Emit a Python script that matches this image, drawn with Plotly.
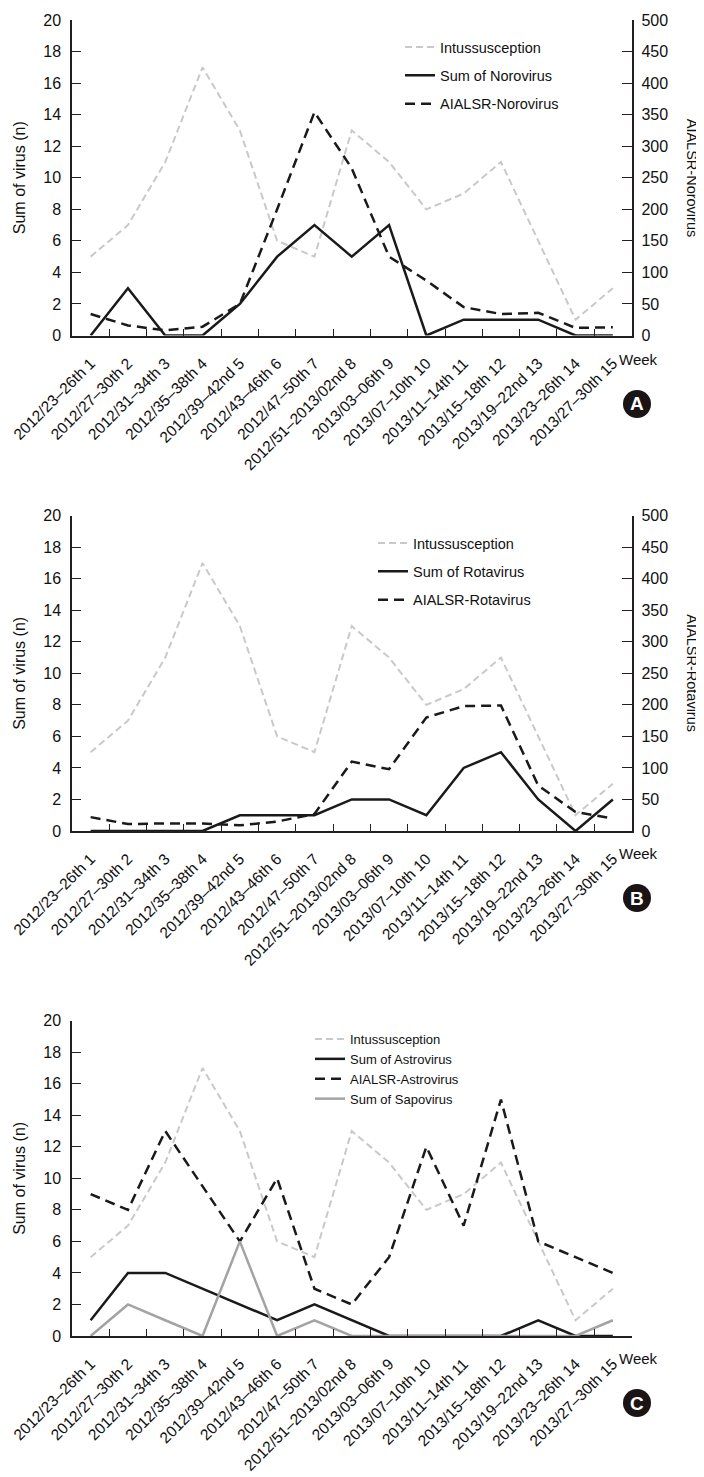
import plotly.graph_objects as go

W, H = 704, 1477

weeks = ["2012/23–26th 1", "2012/27–30th 2", "2012/31–34th 3", "2012/35–38th 4",
         "2012/39–42nd 5", "2012/43–46th 6", "2012/47–50th 7", "2012/51–2013/02nd 8",
         "2013/03–06th 9", "2013/07–10th 10", "2013/11–14th 11", "2013/15–18th 12",
         "2013/19–22nd 13", "2013/23–26th 14", "2013/27–30th 15"]

intussusception = [5, 7, 11, 17, 13, 6, 5, 13, 11, 8, 9, 11, 6, 1, 3]

sum_norovirus = [0, 3, 0, 0, 2, 5, 7, 5, 7, 0, 1, 1, 1, 0, 0]
aialsr_norovirus = [34, 16, 8, 14, 50, 200, 354, 265, 125, 87, 45, 34, 36, 12, 13]

sum_rotavirus = [0, 0, 0, 0, 1, 1, 1, 2, 2, 1, 4, 5, 2, 0, 2]
aialsr_rotavirus = [22, 11, 12, 12, 9, 15, 27, 110, 98, 180, 198, 199, 72, 30, 20]

sum_astrovirus = [1, 4, 4, 3, 2, 1, 2, 1, 0, 0, 0, 0, 1, 0, 0]
aialsr_astrovirus = [9, 8, 13, 9.5, 6, 10, 3, 2, 5, 12, 7, 15, 6, 5, 4]
sum_sapovirus = [0, 2, 1, 0, 6, 0, 1, 0, 0, 0, 0, 0, 0, 0, 1]

FONT = "Liberation Sans, Arial, Helvetica, sans-serif"
AX = "#231f20"
TXT = "#111111"
GRAY_D = "#c9c9c9"
SAPO = "#a3a3a3"

OFF = 8  # page body margin of the html


def px(x):
    return (x - OFF) / W


def py(y):
    return 1 - (y - OFF) / H


X0, X1 = 72, 631.5
panels = [  # (top px, bottom px)
    (20.0, 335.5),
    (515.7, 831.0),
    (1020.7, 1336.0),
]

fig = go.Figure()

intu_style = dict(color=GRAY_D, width=2, dash="7px,4px")
sum_style = dict(color="#1a1a1a", width=2.5)
aial_style = dict(color="#1a1a1a", width=2.5, dash="10px,6px")

# Panel A
fig.add_trace(go.Scatter(x=weeks, y=intussusception, name="Intussusception", mode="lines",
                         line=intu_style, xaxis="x", yaxis="y", legend="legend", legendgroup="a1"))
fig.add_trace(go.Scatter(x=weeks, y=sum_norovirus, name="Sum of Norovirus", mode="lines",
                         line=sum_style, xaxis="x", yaxis="y", legend="legend", legendgroup="a2"))
fig.add_trace(go.Scatter(x=weeks, y=aialsr_norovirus, name="AIALSR-Norovirus", mode="lines",
                         line=aial_style, xaxis="x", yaxis="y2", legend="legend", legendgroup="a3"))
# Panel B
fig.add_trace(go.Scatter(x=weeks, y=intussusception, name="Intussusception", mode="lines",
                         line=intu_style, xaxis="x2", yaxis="y3", legend="legend2", legendgroup="b1"))
fig.add_trace(go.Scatter(x=weeks, y=sum_rotavirus, name="Sum of Rotavirus", mode="lines",
                         line=sum_style, xaxis="x2", yaxis="y3", legend="legend2", legendgroup="b2"))
fig.add_trace(go.Scatter(x=weeks, y=aialsr_rotavirus, name="AIALSR-Rotavirus", mode="lines",
                         line=aial_style, xaxis="x2", yaxis="y4", legend="legend2", legendgroup="b3"))
# Panel C
fig.add_trace(go.Scatter(x=weeks, y=intussusception, name="Intussusception", mode="lines",
                         line=intu_style, xaxis="x3", yaxis="y5", legend="legend3"))
fig.add_trace(go.Scatter(x=weeks, y=sum_astrovirus, name="Sum of Astrovirus", mode="lines",
                         line=sum_style, xaxis="x3", yaxis="y5", legend="legend3"))
fig.add_trace(go.Scatter(x=weeks, y=aialsr_astrovirus, name="AIALSR-Astrovirus", mode="lines",
                         line=aial_style, xaxis="x3", yaxis="y5", legend="legend3"))
fig.add_trace(go.Scatter(x=weeks, y=sum_sapovirus, name="Sum of Sapovirus", mode="lines",
                         line=dict(color=SAPO, width=2.5), xaxis="x3", yaxis="y5", legend="legend3"))

xcommon = dict(type="category", categoryorder="array", categoryarray=weeks,
               range=[-0.5, 14.5], tickson="boundaries", ticks="inside", ticklen=7,
               tickcolor=AX, tickwidth=1, showline=True, linecolor=AX, linewidth=1.5,
               showgrid=False, zeroline=False, tickangle=-45, automargin=False,
               tickfont=dict(family=FONT, size=15.5, color=TXT),
               ticklabelstandoff=11, domain=[px(X0), px(X1)])
ylcommon = dict(range=[0, 20], dtick=2, tick0=0, ticks="inside", ticklen=9, tickcolor=AX,
                tickwidth=1, showline=True, linecolor=AX, linewidth=1.5, showgrid=False,
                zeroline=False, tickfont=dict(family=FONT, size=16, color=TXT),
                ticklabelstandoff=6, automargin=False,
                title=dict(text="Sum of virus (n)", font=dict(family=FONT, size=16, color=TXT),
                           standoff=14))
yrcommon = dict(range=[0, 500], dtick=50, tick0=0, ticks="inside", ticklen=10, tickcolor=AX,
                tickwidth=1, showline=True, linecolor=AX, linewidth=1.5, showgrid=False,
                zeroline=False, side="right", automargin=False,
                tickfont=dict(family=FONT, size=16, color=TXT), ticklabelstandoff=5)


def ydom(i):
    t, b = panels[i]
    return [py(b), py(t)]


fig.update_layout(
    width=W, height=H, margin=dict(l=0, r=0, t=0, b=0, autoexpand=False),
    plot_bgcolor="white", paper_bgcolor="white",
    xaxis=dict(xcommon, anchor="y"),
    yaxis=dict(ylcommon, domain=ydom(0), anchor="x"),
    yaxis2=dict(yrcommon, overlaying="y", anchor="x"),
    xaxis2=dict(xcommon, anchor="y3"),
    yaxis3=dict(ylcommon, domain=ydom(1), anchor="x2"),
    yaxis4=dict(yrcommon, overlaying="y3", anchor="x2"),
    xaxis3=dict(xcommon, anchor="y5"),
    yaxis5=dict(ylcommon, domain=ydom(2), anchor="x3"),
    legend=dict(x=px(400), y=py(31), xanchor="left", yanchor="top", traceorder="grouped",
                tracegroupgap=6.5, font=dict(family=FONT, size=14.5, color=TXT),
                bgcolor="rgba(0,0,0,0)", itemwidth=30),
    legend2=dict(x=px(373), y=py(527), xanchor="left", yanchor="top", traceorder="grouped",
                 tracegroupgap=6.5, font=dict(family=FONT, size=14.5, color=TXT),
                 bgcolor="rgba(0,0,0,0)", itemwidth=30),
    legend3=dict(x=px(310), y=py(1024), xanchor="left", yanchor="top",
                 font=dict(family=FONT, size=13, color=TXT),
                 bgcolor="rgba(0,0,0,0)", itemwidth=30),
    showlegend=True,
)

annotations = []
shapes = []
right_titles = [("AIALSR-Norovirus", 0), ("AIALSR-Rotavirus", 1)]
for txt, i in right_titles:
    t, b = panels[i]
    annotations.append(dict(text=txt, x=px(692), y=py((t + b) / 2), xref="paper", yref="paper",
                            textangle=90, showarrow=False, xanchor="center", yanchor="middle",
                            font=dict(family=FONT, size=14.5, color=TXT)))

week_y = [359, 853, 1358]
badge_y = [404, 898, 1403]
letters = ["A", "B", "C"]
for i in range(3):
    annotations.append(dict(text="Week", x=px(638), y=py(week_y[i]), xref="paper", yref="paper",
                            showarrow=False, xanchor="center", yanchor="middle",
                            font=dict(family=FONT, size=15, color=TXT)))
    r = 14
    cx, cy = 637, badge_y[i]
    shapes.append(dict(type="circle", xref="paper", yref="paper",
                       x0=px(cx - r), x1=px(cx + r), y0=py(cy + r), y1=py(cy - r),
                       fillcolor="#1a1414", line=dict(width=0)))
    annotations.append(dict(text="<b>" + letters[i] + "</b>", x=px(cx), y=py(cy), xref="paper",
                            yref="paper", showarrow=False, xanchor="center", yanchor="middle",
                            font=dict(family=FONT, size=19, color="white")))

fig.update_layout(annotations=annotations, shapes=shapes)

fig.write_html("out.html")
